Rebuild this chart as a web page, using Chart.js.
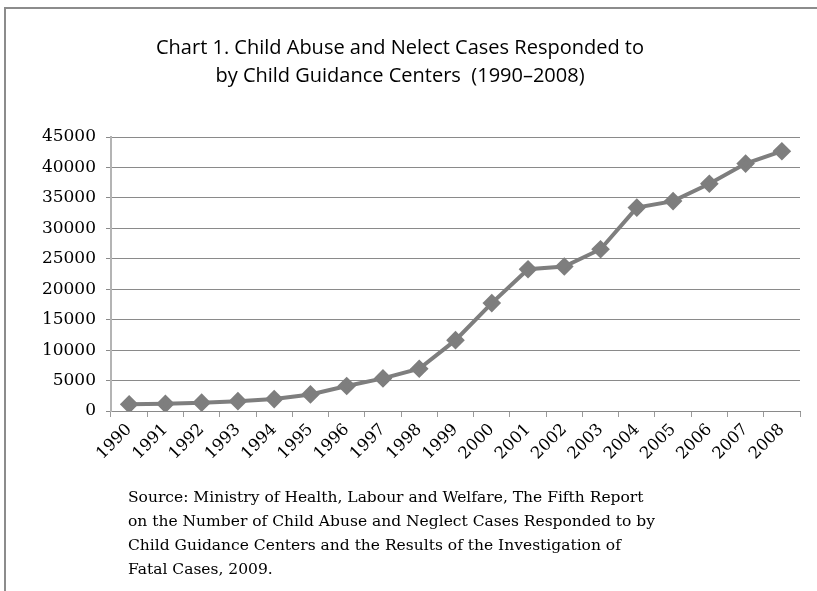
<!DOCTYPE html>
<html>
<head>
<meta charset="utf-8">
<script src="https://cdn.jsdelivr.net/npm/chart.js@4/dist/chart.umd.min.js"></script>
<style>
  html, body { margin: 0; padding: 0; background: #fff; }
  #wrap { position: relative; width: 817px; height: 591px; overflow: hidden; }
  #frame { position: absolute; left: 4px; top: 7px; width: 830px; height: 600px;
           border-top: 2px solid #8c8c8c; border-left: 2px solid #8c8c8c; }
  #chart { position: absolute; left: 0; top: 0; }
  #source { position: absolute; left: 128px; top: 485px; font-family: "DejaVu Serif", serif;
            font-size: 15.5px; line-height: 24px; color: #000; white-space: nowrap; }
</style>
</head>
<body>
<div id="wrap">
  <div id="frame"></div>
  <canvas id="chart" width="817" height="591"></canvas>
  <div id="source">
    Source: Ministry of Health, Labour and Welfare, The Fifth Report<br>
    on the Number of Child Abuse and Neglect Cases Responded to by<br>
    Child Guidance Centers and the Results of the Investigation of<br>
    Fatal Cases, 2009.
  </div>
</div>
<script>
const years = ['1990', '1991', '1992', '1993', '1994', '1995', '1996', '1997', '1998', '1999',
  '2000', '2001', '2002', '2003', '2004', '2005', '2006', '2007', '2008'];
const cases = [1101, 1171, 1372, 1611, 1961, 2722, 4102, 5352, 6932, 11631,
  17725, 23274, 23738, 26569, 33408, 34472, 37323, 40639, 42664];
const titleLines = ['Chart 1. Child Abuse and Nelect Cases Responded to',
  'by Child Guidance Centers  (1990\u20132008)'];

const serif = '"DejaVu Serif", serif';

new Chart(document.getElementById('chart'), {
  type: 'line',
  data: {
    labels: years,
    datasets: [{
      label: 'Cases',
      data: cases,
      borderColor: '#7e7e7e',
      backgroundColor: '#7e7e7e',
      borderWidth: 4,
      pointStyle: 'rectRot',
      pointRadius: 6.5,
      pointHoverRadius: 6.5,
      tension: 0
    }]
  },
  options: {
    responsive: false,
    animation: false,
    layout: { padding: { top: 0, left: 0, right: 17, bottom: 110 } },
    plugins: {
      legend: { display: false },
      tooltip: { enabled: false },
      title: {
        display: true,
        text: titleLines,
        color: '#000',
        font: { family: '"Open Sans", sans-serif', size: 20, weight: 'normal', lineHeight: 1.4 },
        padding: { top: 34, bottom: 47 }
      }
    },
    scales: {
      x: {
        offset: true,
        grid: { offset: true, drawOnChartArea: false, drawTicks: true, tickLength: 6, color: '#9a9a9a' },
        border: { color: '#8a8a8a', width: 1 },
        ticks: {
          color: '#000', minRotation: 45, maxRotation: 45, autoSkip: false, padding: 3,
          font: { family: serif, size: 16.5 }
        },
        afterFit: s => { s.height = 70; }
      },
      y: {
        min: 0, max: 45000,
        grid: { color: '#8a8a8a', tickLength: 5 },
        border: { color: '#b4b4b4', width: 2 },
        ticks: {
          stepSize: 5000, color: '#000', padding: 10,
          font: { family: serif, size: 17 },
          callback: v => String(v)
        },
        afterFit: s => { s.width = 111; }
      }
    }
  }
});
</script>
</body>
</html>
